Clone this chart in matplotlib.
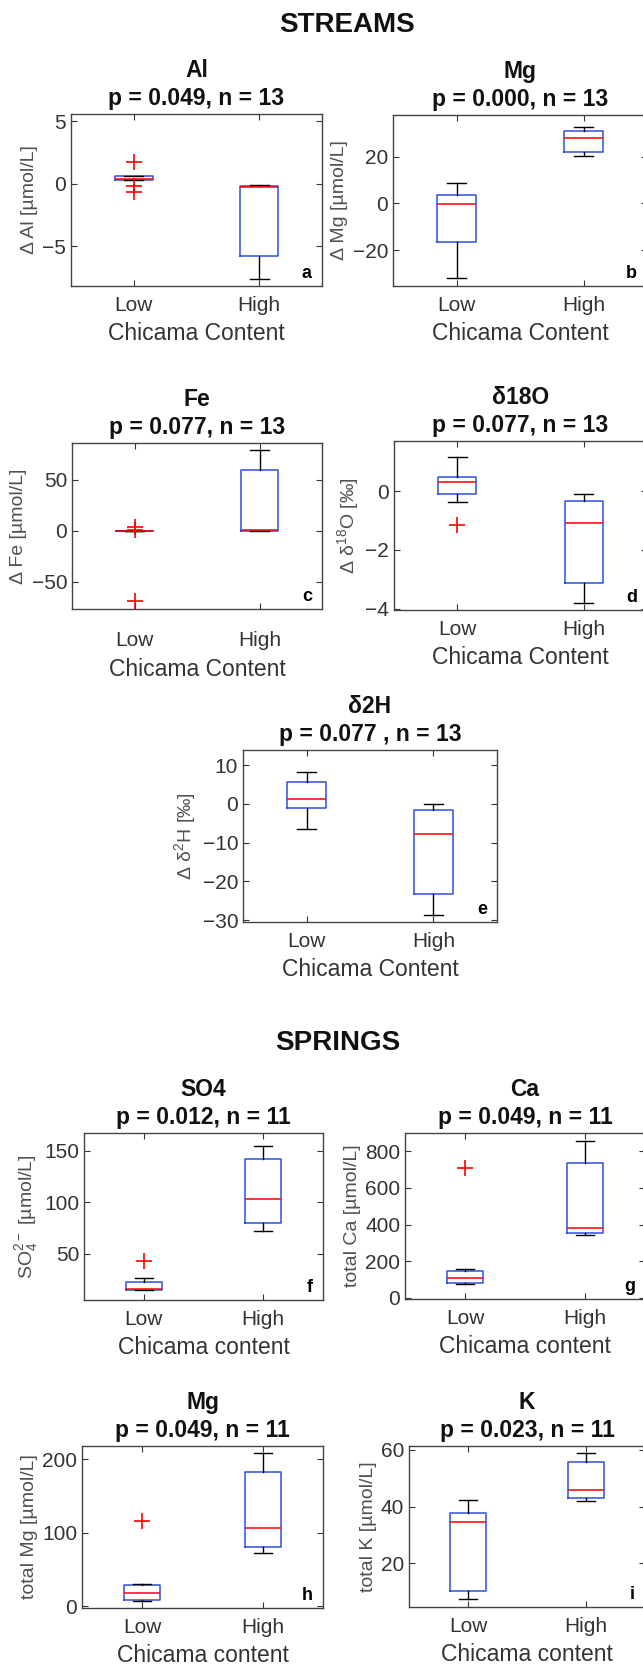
import matplotlib
matplotlib.use("Agg")
import matplotlib.pyplot as plt

plt.rcParams['font.family'] = ['Liberation Sans', 'DejaVu Sans']
plt.rcParams['mathtext.fontset'] = 'custom'
plt.rcParams['mathtext.rm'] = 'Liberation Sans'
plt.rcParams['mathtext.it'] = 'Liberation Sans:italic'
plt.rcParams['mathtext.bf'] = 'Liberation Sans:bold'

# box stats: [whisker low, q1, median, q3, whisker high]
groups = ['Low', 'High']

al_low = [0.28, 0.30, 0.35, 0.60, 0.62]
al_low_out = [1.75, -0.2, -0.63]
al_high = [-7.6, -5.8, -0.22, -0.18, -0.08]

mg_low = [-32.1, -16.4, -0.2, 3.6, 8.6]
mg_high = [20.4, 22.0, 28.0, 31.0, 32.8]

fe_low = [0.0, 0.0, 0.0, 0.0, 0.0]
fe_low_out = [3.5, 1.0, -69.0]
fe_high = [0.0, 0.0, 0.3, 58.9, 78.4]

o18_low = [-0.38, -0.10, 0.31, 0.48, 1.15]
o18_low_out = [-1.16]
o18_high = [-3.79, -3.12, -1.10, -0.33, -0.09]

h2_low = [-6.6, -1.0, 1.2, 5.6, 8.1]
h2_high = [-28.6, -23.4, -7.7, -1.7, 0.0]

so4_low = [15.0, 15.0, 16.0, 23.1, 26.4]
so4_low_out = [43.2]
so4_high = [71.9, 79.7, 103.0, 141.8, 154.9]

ca_low = [74, 78, 109, 147, 156]
ca_low_out = [711]
ca_high = [341, 352, 383, 735, 856]

mgs_low = [6.8, 8.2, 18.1, 28.6, 30.9]
mgs_low_out = [116]
mgs_high = [72.5, 80.3, 106.0, 182.7, 207.7]

k_low = [7.2, 10.2, 34.7, 37.7, 42.4]
k_high = [42.1, 43.0, 45.8, 55.8, 59.1]

W, H = 643, 1671
fig = plt.figure(figsize=(W / 100, H / 100), dpi=100)

BLUE = '#2d4fdc'
TXT = '#333333'


def stat(v, out):
    return dict(whislo=v[0], q1=v[1], med=v[2], q3=v[3], whishi=v[4], fliers=out)


def panel(box, title, ylabel, xlabel, low, low_out, high, high_out,
          ylim, yticks, letter, xpad=7):
    l, t, r, b = box
    ax = fig.add_axes([l / W, 1 - b / H, (r - l) / W, (b - t) / H])
    ax.bxp([stat(low, low_out), stat(high, high_out)], positions=[1, 2],
           widths=0.3, capwidths=0.15, manage_ticks=False,
           boxprops=dict(color=BLUE, lw=1.1),
           medianprops=dict(color='red', lw=1.1),
           whiskerprops=dict(color='k', lw=1.0),
           capprops=dict(color='k', lw=1.0),
           flierprops=dict(marker='+', markeredgecolor='red',
                           markersize=11, markeredgewidth=1.2))
    ax.set_xlim(0.5, 2.5)
    ax.set_ylim(*ylim)
    ax.set_xticks([1, 2])
    ax.set_xticklabels(groups)
    ax.set_yticks(yticks)
    ax.tick_params(direction='in', top=True, right=True, length=4,
                   width=0.8, labelsize=15, colors=TXT)
    ax.tick_params(axis='x', pad=xpad)
    for s in ax.spines.values():
        s.set_color('#444444')
        s.set_linewidth(1.0)
    ax.set_title(title, fontsize=16.5, fontweight='bold', pad=6.5,
                 linespacing=1.3, color='#111111')
    ax.set_ylabel(ylabel, fontsize=14, color='#505050', labelpad=3)
    ax.set_xlabel(xlabel, fontsize=16.5, color=TXT, labelpad=5.5)
    ax.annotate(letter, xy=(1, 0), xycoords='axes fraction',
                xytext=(-10, 8), textcoords='offset pixels',
                ha='right', va='baseline', fontsize=13, fontweight='bold')
    return ax


cs = 'Chicama Content'
cl = 'Chicama content'
um = ' [µmol/L]'

panel((71, 114, 322, 286), 'Al\np = 0.049, n = 13', 'Δ Al' + um, cs,
      al_low, al_low_out, al_high, [], (-8.2, 5.6), [-5, 0, 5], 'a')
panel((393, 115, 647, 286), 'Mg\np = 0.000, n = 13', 'Δ Mg' + um, cs,
      mg_low, [], mg_high, [], (-35.4, 37.9), [-20, 0, 20], 'b')
panel((72, 443, 322, 609), 'Fe\np = 0.077, n = 13', 'Δ Fe' + um, cs,
      fe_low, fe_low_out, fe_high, [], (-76.4, 85.7), [-50, 0, 50], 'c',
      xpad=16)
panel((394, 441, 647, 610), 'δ18O\np = 0.077, n = 13', 'Δ δ$^{18}$O [‰]', cs,
      o18_low, o18_low_out, o18_high, [], (-4.04, 1.7), [-4, -2, 0], 'd')
panel((243, 750, 497, 922), 'δ2H\np = 0.077 , n = 13', 'Δ δ$^{2}$H [‰]', cs,
      h2_low, [], h2_high, [], (-30.5, 13.9), [-30, -20, -10, 0, 10], 'e')

panel((84, 1133, 323, 1300), 'SO4\np = 0.012, n = 11', 'SO$_4^{2-}$' + um, cl,
      so4_low, so4_low_out, so4_high, [], (5.3, 167.2), [50, 100, 150], 'f')
panel((405, 1133, 645, 1299), 'Ca\np = 0.049, n = 11', 'total Ca' + um, cl,
      ca_low, ca_low_out, ca_high, [], (-7, 900), [0, 200, 400, 600, 800], 'g')
panel((82, 1446, 323, 1608), 'Mg\np = 0.049, n = 11', 'total Mg' + um, cl,
      mgs_low, mgs_low_out, mgs_high, [], (-2.3, 217.7), [0, 100, 200], 'h')
panel((409, 1446, 645, 1607), 'K\np = 0.023, n = 11', 'total K' + um, cl,
      k_low, [], k_high, [], (4.5, 61.4), [20, 40, 60], 'i')

fig.text(347.5 / W, 1 - 25 / H, 'STREAMS', ha='center', va='center',
         fontsize=20, fontweight='bold', color='#111111')
fig.text(338 / W, 1 - 1043 / H, 'SPRINGS', ha='center', va='center',
         fontsize=20, fontweight='bold', color='#111111')

fig.savefig('out.png', dpi=100, facecolor='white')
